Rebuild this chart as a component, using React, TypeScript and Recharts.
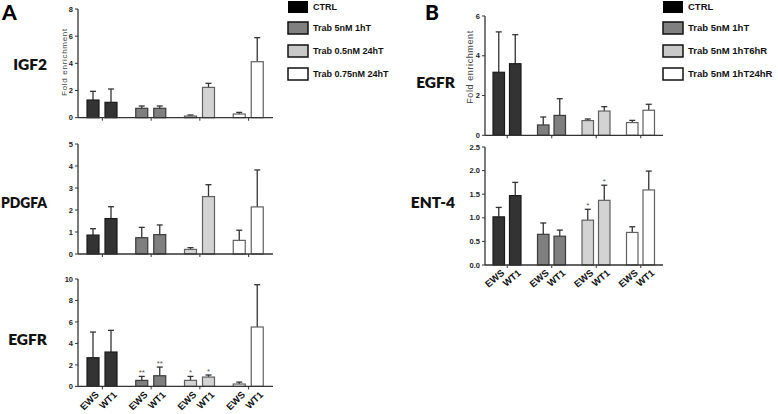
import React from "react";
import { BarChart, Bar, XAxis, YAxis } from "recharts";

const treatmentsA = ["CTRL", "Trab 5nM 1hT", "Trab 0.5nM 24hT", "Trab 0.75nM 24hT"];
const treatmentsB = ["CTRL", "Trab 5nM 1hT", "Trab 5nM 1hT6hR", "Trab 5nM 1hT24hR"];
const cellLines = ["EWS", "WT1"];

// panel A - IGF2
const igf2Ews = [1.3, 0.69, 0.12, 0.27];
const igf2EwsErr = [0.64, 0.17, 0.08, 0.12];
const igf2Wt1 = [1.13, 0.69, 2.23, 4.12];
const igf2Wt1Err = [0.98, 0.17, 0.3, 1.77];

// panel A - PDGFA
const pdgfaEws = [0.86, 0.74, 0.21, 0.62];
const pdgfaEwsErr = [0.29, 0.47, 0.08, 0.46];
const pdgfaWt1 = [1.61, 0.88, 2.61, 2.14];
const pdgfaWt1Err = [0.54, 0.44, 0.54, 1.68];

// panel A - EGFR
const egfrAEws = [2.67, 0.56, 0.56, 0.22];
const egfrAEwsErr = [2.39, 0.37, 0.37, 0.18];
const egfrAWt1 = [3.2, 0.99, 0.87, 5.53];
const egfrAWt1Err = [2.02, 0.81, 0.19, 3.94];
const egfrAEwsSig = ["", "**", "*", ""];
const egfrAWt1Sig = ["", "**", "*", ""];

// panel B - EGFR
const egfrBEws = [3.17, 0.52, 0.74, 0.64];
const egfrBEwsErr = [2.03, 0.4, 0.08, 0.11];
const egfrBWt1 = [3.6, 1.0, 1.22, 1.26];
const egfrBWt1Err = [1.46, 0.84, 0.22, 0.3];

// panel B - ENT-4
const ent4Ews = [1.02, 0.65, 0.95, 0.69];
const ent4EwsErr = [0.2, 0.24, 0.23, 0.12];
const ent4Wt1 = [1.47, 0.61, 1.37, 1.59];
const ent4Wt1Err = [0.28, 0.13, 0.32, 0.4];
const ent4EwsSig = ["", "", "*", ""];
const ent4Wt1Sig = ["", "", "*", ""];

const fills = ["#333333", "#7f7f7f", "#d3d3d3", "#ffffff"];
const strokes = ["#1a1a1a", "#3a3a3a", "#606060", "#606060"];
const swatchFills = ["#000000", "#808080", "#c9c9c9", "#ffffff"];

const sans = "'Liberation Sans', Arial, sans-serif";
const heading = "Lato, 'Open Sans', sans-serif";

function table(
  names: string[],
  ews: number[],
  ewsErr: number[],
  wt1: number[],
  wt1Err: number[],
  ewsSig: string[] = [],
  wt1Sig: string[] = []
) {
  return names.map((name, i) => ({
    name,
    idx: i,
    ews: ews[i],
    ewsErr: ewsErr[i],
    ewsSig: ewsSig[i] || "",
    wt1: wt1[i],
    wt1Err: wt1Err[i],
    wt1Sig: wt1Sig[i] || "",
  }));
}

const makeShape = (key: "ews" | "wt1") => (props: any) => {
  const { x, y, width, height, payload } = props;
  const v = payload[key];
  const e = payload[key + "Err"];
  const sig = payload[key + "Sig"];
  const i = payload.idx;
  const k = height / v;
  const top = y - e * k;
  const cx = x + width / 2;
  return (
    <g>
      <line x1={cx} x2={cx} y1={y} y2={top} stroke="#333" strokeWidth={1.3} />
      <line x1={cx - 3} x2={cx + 3} y1={top} y2={top} stroke="#333" strokeWidth={1.3} />
      <rect x={x} y={y} width={width} height={height} fill={fills[i]} stroke={strokes[i]} strokeWidth={1.2} />
      {sig ? (
        <text x={cx} y={top - 1.5} textAnchor="middle" fontSize={8} fill="#555" fontFamily={sans}>
          {sig}
        </text>
      ) : null}
    </g>
  );
};

const noTick = () => <g />;

const pairTick = (half: number, angle: number) => (props: any) => {
  const { x, y } = props;
  return (
    <g>
      {cellLines.map((c, j) => {
        const bx = x + (j === 0 ? -half : half) + 6;
        return (
          <text
            key={c}
            transform={`translate(${bx},${y + 4}) rotate(${angle})`}
            textAnchor="end"
            fontSize={9.5}
            fontWeight="bold"
            fill="#111"
            fontFamily={sans}
          >
            {c}
          </text>
        );
      })}
    </g>
  );
};

type PanelProps = {
  data: any[];
  plot: [number, number, number, number];
  ticks: number[];
  digits?: number;
  barSize: number;
  barGap: number;
  labels?: boolean;
  angle?: number;
};

function Panel({ data, plot, ticks, digits = 0, barSize, barGap, labels, angle = -45 }: PanelProps) {
  const [l, r, t, b] = plot;
  const xh = labels ? 40 : 6;
  const w = r - l + 46;
  const h = b - t + 10 + xh;
  const half = (barSize + barGap) / 2;
  return (
    <div style={{ position: "absolute", left: l - 40, top: t - 10 }}>
      <BarChart
        width={w}
        height={h}
        data={data}
        margin={{ top: 10, right: 6, bottom: 0, left: 0 }}
        barSize={barSize}
        barGap={barGap}
      >
        <XAxis
          dataKey="name"
          height={xh}
          interval={0}
          tickSize={3}
          axisLine={{ stroke: "#333", strokeWidth: 1.3 }}
          tickLine={{ stroke: "#333", strokeWidth: 1 }}
          tick={labels ? pairTick(half, angle) : noTick}
        />
        <YAxis
          width={40}
          domain={[0, ticks[ticks.length - 1]]}
          ticks={ticks}
          interval={0}
          tickSize={3}
          tickMargin={2}
          axisLine={{ stroke: "#333", strokeWidth: 1.3 }}
          tickLine={{ stroke: "#333", strokeWidth: 1 }}
          tickFormatter={(v: number) => v.toFixed(digits)}
          tick={{ fontSize: 7.5, fontWeight: "bold", fill: "#222", fontFamily: sans }}
        />
        <Bar dataKey="ews" isAnimationActive={false} shape={makeShape("ews")} />
        <Bar dataKey="wt1" isAnimationActive={false} shape={makeShape("wt1")} />
      </BarChart>
    </div>
  );
}

function Legend({ x, names, size }: { x: number; names: string[]; size: number }) {
  const rows = [7, 28, 51, 74];
  return (
    <g>
      {names.map((n, i) => (
        <g key={n}>
          <rect
            x={x}
            y={rows[i] - 6}
            width={20}
            height={12}
            fill={swatchFills[i]}
            stroke={i === 0 ? "none" : "#111"}
            strokeWidth={1.5}
          />
          <text x={x + 25} y={rows[i] + 3} fontSize={size} fontWeight="bold" fill="#111" fontFamily={sans}>
            {n}
          </text>
        </g>
      ))}
    </g>
  );
}

export default function App() {
  const igf2 = table(treatmentsA, igf2Ews, igf2EwsErr, igf2Wt1, igf2Wt1Err);
  const pdgfa = table(treatmentsA, pdgfaEws, pdgfaEwsErr, pdgfaWt1, pdgfaWt1Err);
  const egfrA = table(treatmentsA, egfrAEws, egfrAEwsErr, egfrAWt1, egfrAWt1Err, egfrAEwsSig, egfrAWt1Sig);
  const egfrB = table(treatmentsB, egfrBEws, egfrBEwsErr, egfrBWt1, egfrBWt1Err);
  const ent4 = table(treatmentsB, ent4Ews, ent4EwsErr, ent4Wt1, ent4Wt1Err, ent4EwsSig, ent4Wt1Sig);

  const geneStyle = { fontSize: 15.5, fontWeight: 800, fill: "#111", fontFamily: heading } as const;

  return (
    <>
      <style>{`body{margin:0}`}</style>
      <div style={{ position: "relative", width: 778, height: 414, background: "#fff", overflow: "hidden" }}>
        <Panel data={igf2} plot={[78, 273, 9, 117.7]} ticks={[0, 2, 4, 6, 8]} barSize={12} barGap={6} />
        <Panel data={pdgfa} plot={[78, 273, 144, 254]} ticks={[0, 1, 2, 3, 4, 5]} barSize={12} barGap={6} />
        <Panel data={egfrA} plot={[78, 273, 279.3, 386.7]} ticks={[0, 2, 4, 6, 8, 10]} barSize={12} barGap={6} labels angle={-45} />
        <Panel data={egfrB} plot={[485, 663, 15.7, 135]} ticks={[0, 2, 4, 6]} barSize={11.5} barGap={5} />
        <Panel data={ent4} plot={[485, 663, 147, 265]} ticks={[0, 0.5, 1, 1.5, 2, 2.5]} digits={1} barSize={11.5} barGap={5} labels angle={-40} />

        <svg width={778} height={414} style={{ position: "absolute", left: 0, top: 0, pointerEvents: "none" }}>
          <text x={2} y={20} fontSize={21} fontWeight={900} fill="#000" fontFamily={heading}>A</text>
          <text x={425} y={20} fontSize={21} fontWeight={900} fill="#000" fontFamily={heading}>B</text>

          <text x={47} y={70} textAnchor="end" {...geneStyle}>IGF2</text>
          <text x={1} y={208} textLength={46} lengthAdjust="spacingAndGlyphs" {...geneStyle}>PDGFA</text>
          <text x={47} y={345} textAnchor="end" {...geneStyle}>EGFR</text>
          <text x={455} y={88} textAnchor="end" {...geneStyle}>EGFR</text>
          <text x={455} y={208} textAnchor="end" {...geneStyle}>ENT-4</text>

          <text
            transform="translate(67,62) rotate(-90)"
            textAnchor="middle"
            fontSize={8}
            letterSpacing={0.7}
            fill="#444"
            fontFamily={sans}
          >
            Fold enrichment
          </text>
          <text
            transform="translate(473,67) rotate(-90)"
            textAnchor="middle"
            fontSize={9}
            letterSpacing={0.6}
            fill="#444"
            fontFamily={sans}
          >
            Fold enrichment
          </text>

          <Legend x={288} names={treatmentsA} size={9} />
          <Legend x={663} names={treatmentsB} size={9.5} />
        </svg>
      </div>
    </>
  );
}
